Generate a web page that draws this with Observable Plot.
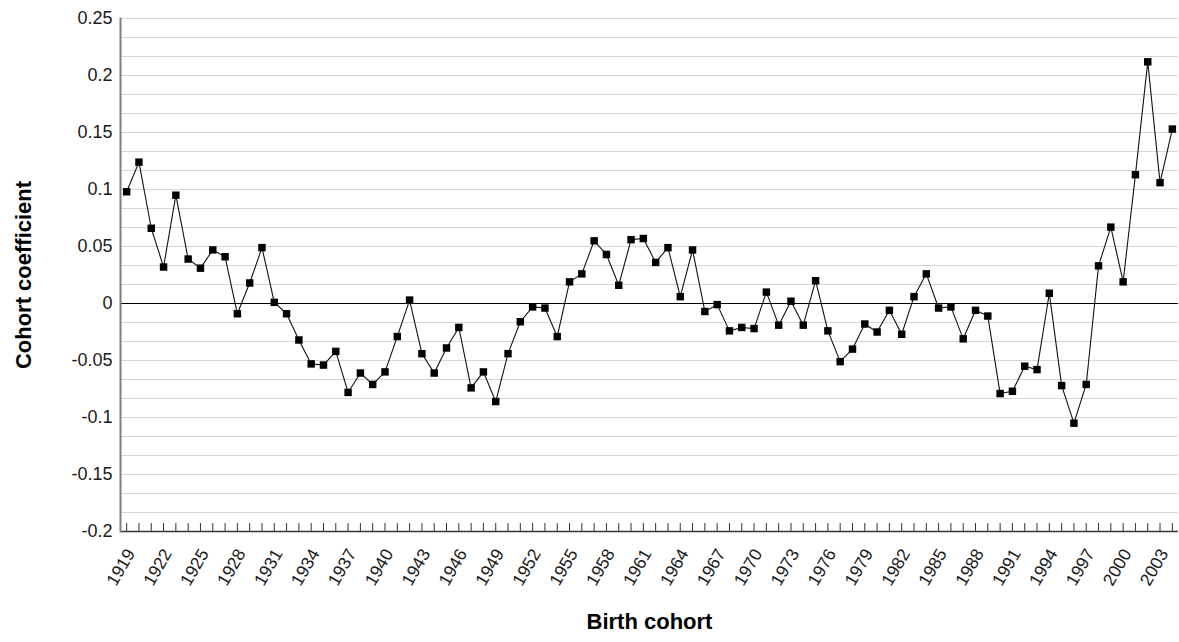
<!DOCTYPE html>
<html>
<head>
<meta charset="utf-8">
<script src="https://cdn.jsdelivr.net/npm/d3@7"></script>
<script src="https://cdn.jsdelivr.net/npm/@observablehq/plot@0.6"></script>
<style>
  html, body { margin: 0; padding: 0; background: #fff; }
  #chart svg { display: block; }
</style>
</head>
<body>
<div id="chart"></div>
<script>
// Birth cohorts (x categories)
const years = [
  1919,1920,1921,1922,1923,1924,1925,1926,1927,1928,1929,1930,1931,1932,1933,1934,1935,1936,1937,1938,
  1939,1940,1941,1942,1943,1944,1945,1946,1947,1948,1949,1950,1951,1952,1953,1954,1955,1956,1957,1958,
  1959,1960,1961,1962,1963,1964,1965,1966,1967,1968,1969,1970,1971,1972,1973,1974,1975,1976,1977,1978,
  1979,1980,1981,1982,1983,1984,1985,1986,1987,1988,1989,1990,1991,1992,1993,1994,1995,1996,1997,1998,
  1999,2000,2001,2002,2003,2004
];
// Cohort coefficients
const coefficients = [
  0.098, 0.124, 0.066, 0.032, 0.095, 0.039, 0.031, 0.047, 0.041,-0.009, 0.018, 0.049, 0.001,-0.009,-0.032,-0.053,-0.054,-0.042,-0.078,-0.061,
 -0.071,-0.060,-0.029, 0.003,-0.044,-0.061,-0.039,-0.021,-0.074,-0.060,-0.086,-0.044,-0.016,-0.003,-0.004,-0.029, 0.019, 0.026, 0.055, 0.043,
  0.016, 0.056, 0.057, 0.036, 0.049, 0.006, 0.047,-0.007,-0.001,-0.024,-0.021,-0.022, 0.010,-0.019, 0.002,-0.019, 0.020,-0.024,-0.051,-0.040,
 -0.018,-0.025,-0.006,-0.027, 0.006, 0.026,-0.004,-0.003,-0.031,-0.006,-0.011,-0.079,-0.077,-0.055,-0.058, 0.009,-0.072,-0.105,-0.071, 0.033,
  0.067, 0.019, 0.113, 0.212, 0.106, 0.153
];
// Labelled x ticks (every third cohort)
const xTickLabels = [1919,1922,1925,1928,1931,1934,1937,1940,1943,1946,1949,1952,1955,1958,1961,1964,1967,1970,1973,1976,1979,1982,1985,1988,1991,1994,1997,2000,2003];
// Labelled y ticks
const yTicks = [0.25, 0.2, 0.15, 0.1, 0.05, 0, -0.05, -0.1, -0.15, -0.2];
const yTickText = ["0.25","0.2","0.15","0.1","0.05","0","-0.05","-0.1","-0.15","-0.2"];
// Minor horizontal gridlines (three per labelled interval)
const yGrid = d3.range(-12, 16).map(i => +(i * 0.05 / 3).toFixed(5));

const data = years.map((y, i) => ({year: y, value: coefficients[i]}));
const fmtY = v => yTickText[yTicks.findIndex(t => Math.abs(t - v) < 1e-9)] ?? "";

const font = "'Liberation Sans', Arial, Helvetica, sans-serif";

const chart = Plot.plot({
  width: 1179,
  height: 642,
  marginLeft: 120,
  marginRight: 1,
  marginTop: 18,
  marginBottom: 111,
  style: {fontFamily: font, fontSize: "18px", background: "#fff", color: "#1a1a1a"},
  x: {type: "point", domain: years, padding: 0.5, round: false},
  y: {domain: [-0.2, 0.25]},
  marks: [
    Plot.ruleY(yGrid, {stroke: "#d6d6d6", strokeWidth: 1.2}),
    Plot.ruleY([0], {stroke: "#000", strokeWidth: 1.2}),
    Plot.ruleY([-0.2], {stroke: "#333", strokeWidth: 1.6}),
    Plot.frame({anchor: "left", stroke: "#7f7f7f", strokeWidth: 2}),
    Plot.axisY({ticks: yTicks, tickSize: 0, tickPadding: 8, tickFormat: fmtY, fontSize: 18, label: null}),
    Plot.axisX({ticks: years, tickSize: -8, tickFormat: () => "", label: null, stroke: "#333"}),
    Plot.axisX({ticks: xTickLabels, tickSize: 0, tickRotate: -60, tickPadding: 19, dx: 4, fontSize: 17.5, label: null, tickFormat: d => String(d)}),
    Plot.line(data, {x: "year", y: "value", stroke: "#111", strokeWidth: 1.1}),
    Plot.dot(data, {x: "year", y: "value", symbol: "square", r: 4.2, fill: "#000", stroke: "none"}),
    Plot.text(["Cohort coefficient"], {frameAnchor: "left", dx: -97, rotate: -90, text: d => d, fontSize: 22, fontWeight: "bold", fill: "#000", textAnchor: "middle"}),
    Plot.text(["Birth cohort"], {frameAnchor: "bottom", dy: 97, text: d => d, fontSize: 22, fontWeight: "bold", fill: "#000", textAnchor: "middle"})
  ]
});
document.getElementById("chart").appendChild(chart);
</script>
</body>
</html>
